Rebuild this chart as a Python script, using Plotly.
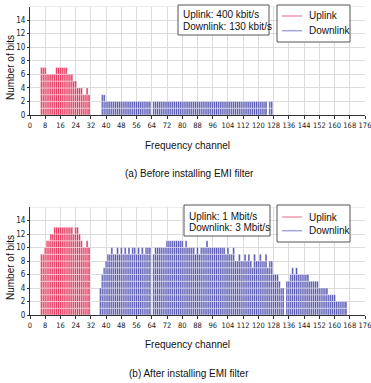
import plotly.graph_objects as go

W, H = 371, 383

# ---------------- data ----------------
x_ticks = [0, 8, 16, 24, 32, 40, 48, 56, 64, 72, 80, 88, 96, 104, 112, 120,
           128, 136, 144, 152, 160, 168, 176]
x_tick_labels = [str(v) for v in x_ticks]
y_ticks = [0, 2, 4, 6, 8, 10, 12, 14]
y_tick_labels = [str(v) for v in y_ticks]

# (a) before installing EMI filter
up_a_channels = list(range(6, 32))
up_a_bits = [7, 7, 7, 6, 6, 6, 6, 6, 7, 7,
             7, 7, 7, 7, 6, 6, 6, 5, 5, 4,
             4, 4, 3, 3, 4, 3]
down_a_channels = list(range(38, 128))
down_a_bits = [3, 3, 2, 2, 2, 2, 2, 2, 2, 2,
               2, 2, 2, 2, 2, 2, 2, 2, 2, 2,
               2, 2, 2, 2, 2, 2, 0, 2, 2, 2,
               2, 2, 2, 2, 2, 2, 2, 2, 2, 2,
               2, 2, 2, 2, 2, 2, 2, 2, 2, 2,
               2, 2, 2, 2, 2, 2, 2, 2, 2, 2,
               2, 2, 2, 2, 2, 2, 2, 2, 2, 2,
               2, 2, 2, 2, 2, 2, 2, 2, 2, 2,
               2, 2, 2, 2, 2, 2, 2, 0, 2, 2]

# (b) after installing EMI filter
up_b_channels = list(range(6, 32))
up_b_bits = [9, 9, 10, 11, 11, 12, 12, 13, 13, 13,
             13, 13, 13, 13, 13, 13, 13, 12, 13, 13,
             12, 11, 10, 10, 11, 10]
down_b_channels = list(range(37, 167))
down_b_bits = [4, 6, 7, 8, 9, 9, 10, 9, 9, 10,
               9, 10, 9, 10, 9, 10, 9, 10, 10, 9,
               10, 9, 10, 9, 10, 10, 10, 0, 9, 10,
               10, 10, 10, 10, 10, 11, 11, 11, 11, 11,
               11, 11, 11, 11, 10, 11, 10, 10, 10, 10,
               9, 10, 9, 10, 10, 10, 11, 10, 10, 10,
               10, 10, 10, 10, 10, 10, 9, 10, 9, 9,
               10, 8, 8, 9, 8, 8, 9, 8, 9, 8,
               7, 9, 8, 8, 9, 8, 8, 9, 7, 8,
               8, 6, 6, 6, 5, 4, 4, 0, 5, 5,
               6, 7, 6, 7, 6, 6, 6, 6, 6, 6,
               5, 5, 5, 5, 5, 4, 4, 4, 4, 4,
               3, 3, 3, 3, 2, 2, 2, 2, 2, 2]

rate_text_a = ["Uplink: 400 kbit/s", "Downlink: 130 kbit/s"]
rate_text_b = ["Uplink: 1 Mbit/s", "Downlink: 3 Mbit/s"]
series_names = ["Uplink", "Downlink"]
captions = ["(a) Before installing EMI filter", "(b) After installing EMI filter"]

# ---------------- style ----------------
UP_COLOR = "#e32f57"
DOWN_COLOR = "#5252b0"
UP_LEG = "#f09aae"
DOWN_LEG = "#a4a4d6"
FONT = "Liberation Sans, Arial, Helvetica, sans-serif"
TICKFONT = "Liberation Sans Narrow, DejaVu Sans Condensed, Arial Narrow, sans-serif"


def blocks(channels, bits):
    xs, bases = [], []
    for c, b in zip(channels, bits):
        for k in range(b):
            xs.append(c)
            bases.append(k)
    return xs, bases


def px(x):
    return x / W


def py(y):
    return 1 - y / H


fig = go.Figure()

panels = [
    ("x", "y", up_a_channels, up_a_bits, down_a_channels, down_a_bits),
    ("x2", "y2", up_b_channels, up_b_bits, down_b_channels, down_b_bits),
]
for xa, ya, uc, ub, dc, db in panels:
    for ch, bits, col in ((uc, ub, UP_COLOR), (dc, db, DOWN_COLOR)):
        xs, bases = blocks(ch, bits)
        fig.add_trace(go.Bar(
            x=xs, y=[1] * len(xs), base=bases, width=1,
            marker=dict(color=col, line=dict(color="white", width=0.45)),
            xaxis=xa, yaxis=ya, showlegend=False, hoverinfo="skip"))

x_dom = [px(30), px(365)]
y_dom_a = [py(115), py(6.5)]
y_dom_b = [py(315), py(207)]

xaxis_common = dict(
    range=[0, 176], tickvals=x_ticks, ticktext=x_tick_labels, tickangle=0,
    ticklabeloverflow="allow",
    showgrid=True, gridcolor="#dcdcdc", gridwidth=1,
    showline=True, linecolor="#333", linewidth=1,
    ticks="outside", ticklen=3, tickcolor="#333", tickwidth=1,
    tickfont=dict(family=TICKFONT, size=7.5, color="#222"),
    zeroline=False, fixedrange=True, automargin=False)
yaxis_common = dict(
    range=[0, 16], tickvals=y_ticks, ticktext=y_tick_labels, tickangle=0,
    ticklabeloverflow="allow",
    showgrid=True, gridcolor="#dcdcdc", gridwidth=1,
    showline=True, linecolor="#333", linewidth=1,
    ticks="outside", ticklen=2, tickcolor="#333", tickwidth=1,
    tickfont=dict(family=TICKFONT, size=8, color="#222"),
    zeroline=False, fixedrange=True, automargin=False)

fig.update_layout(
    width=W, height=H,
    margin=dict(l=0, r=0, t=0, b=0, autoexpand=False),
    paper_bgcolor="white", plot_bgcolor="white",
    barmode="overlay",
    showlegend=False,
    font=dict(family=FONT, size=10, color="#222"),
    xaxis=dict(domain=x_dom, anchor="y", **xaxis_common),
    yaxis=dict(domain=y_dom_a, anchor="x", **yaxis_common),
    xaxis2=dict(domain=x_dom, anchor="y2", **xaxis_common),
    yaxis2=dict(domain=y_dom_b, anchor="x2", **yaxis_common),
)

shapes = []
annotations = []

# top gridline at 16
for xr, yr in (("x", "y"), ("x2", "y2")):
    shapes.append(dict(type="line", xref=xr, yref=yr, x0=0, x1=176, y0=16, y1=16,
                       line=dict(color="#dcdcdc", width=1), layer="below"))

# per-panel decorations (pixel positions)
panel_layout = [
    dict(rates=rate_text_a, caption=captions[0],
         rbox=(178, 5, 269, 35), rlines=(15, 26), rtx=181,
         lbox=(277, 5, 350, 42), llines=(16, 30.7),
         ytitle_y=68, xtitle_y=145.5, cap_y=173.5),
    dict(rates=rate_text_b, caption=captions[1],
         rbox=(184, 205, 270, 236), rlines=(216, 227.5), rtx=187,
         lbox=(277, 205, 350, 242), llines=(217, 230.7),
         ytitle_y=268, xtitle_y=344, cap_y=373),
]

for p in panel_layout:
    x0, y0, x1, y1 = p["rbox"]
    shapes.append(dict(type="rect", xref="paper", yref="paper",
                       x0=px(x0), x1=px(x1), y0=py(y1), y1=py(y0),
                       line=dict(color="#555", width=1), fillcolor="white"))
    for txt, ly in zip(p["rates"], p["rlines"]):
        annotations.append(dict(text=txt, xref="paper", yref="paper",
                                x=px(p["rtx"]), y=py(ly), xanchor="left", yanchor="middle",
                                showarrow=False, font=dict(size=10, color="#111")))
    x0, y0, x1, y1 = p["lbox"]
    shapes.append(dict(type="rect", xref="paper", yref="paper",
                       x0=px(x0), x1=px(x1), y0=py(y1), y1=py(y0),
                       line=dict(color="#555", width=1), fillcolor="white"))
    for name, ly, col in zip(series_names, p["llines"], (UP_LEG, DOWN_LEG)):
        shapes.append(dict(type="line", xref="paper", yref="paper",
                           x0=px(282), x1=px(302), y0=py(ly), y1=py(ly),
                           line=dict(color=col, width=1.5)))
        annotations.append(dict(text=name, xref="paper", yref="paper",
                                x=px(307), y=py(ly), xanchor="left", yanchor="middle",
                                showarrow=False, font=dict(size=10, color="#111")))
    annotations.append(dict(text="Number of bits", xref="paper", yref="paper",
                            x=px(10), y=py(p["ytitle_y"]), xanchor="center", yanchor="middle",
                            textangle=-90, showarrow=False, font=dict(size=10, color="#111")))
    annotations.append(dict(text="Frequency channel", xref="paper", yref="paper",
                            x=px(188), y=py(p["xtitle_y"]), xanchor="center", yanchor="middle",
                            showarrow=False, font=dict(size=10, color="#111")))
    annotations.append(dict(text=p["caption"], xref="paper", yref="paper",
                            x=px(189), y=py(p["cap_y"]), xanchor="center", yanchor="middle",
                            showarrow=False, font=dict(size=10, color="#111")))

fig.update_layout(shapes=shapes, annotations=annotations)

fig.write_html(
    "out.html",
    config=dict(displayModeBar=False),
    post_script="document.body.style.margin='0';document.body.style.padding='0';"
                "document.body.style.overflow='hidden';"
                "document.documentElement.style.overflow='hidden';",
)
